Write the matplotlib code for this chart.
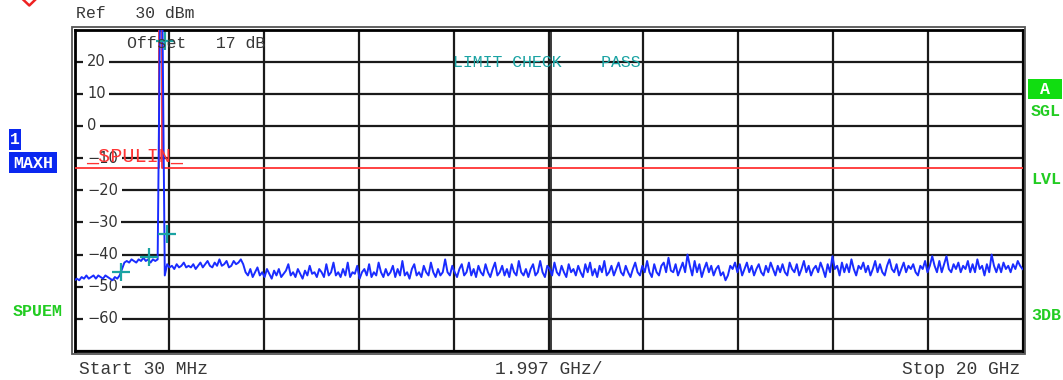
import matplotlib
matplotlib.use("Agg")
import matplotlib.pyplot as plt
import matplotlib.transforms as mtransforms
from matplotlib.patches import Rectangle
from matplotlib.lines import Line2D
import numpy as np

# ---------------- data ----------------
f_start_ghz = 0.03
f_stop_ghz = 20.0
ref_level = 30
y_bottom = -70

ytick_values = [20, 10, 0, -10, -20, -30, -40, -50, -60]
ytick_labels = ["20", "10", "0", "\u221210", "\u221220", "\u221230", "\u221240", "\u221250", "\u221260"]

# sweep trace (dBm), evenly spaced over the sweep
seg_below_1g = [-48.0, -47.5, -48.0, -47.0, -47.5, -46.5, -47.5, -47.0, -46.5, -47.5,
                -46.5, -47.0, -47.5, -46.5, -47.0, -47.5, -48.0, -47.0, -47.5, -46.5]
seg_1g_to_carrier = [-44.5, -42.5, -42.0, -42.5, -41.5, -42.0, -42.5, -41.5, -42.0, -41.0,
                     -42.0, -41.5, -42.5, -41.5, -42.0, -41.5]
seg_carrier = [35.0, 35.0, -46.5]
seg_near = [-43.0, -44.0, -43.5, -44.5, -43.0, -44.0, -43.5, -42.5, -44.0, -43.5,
            -44.0, -43.0, -44.5, -43.5, -42.5, -44.0, -43.0, -42.0, -43.5, -44.0,
            -42.5, -43.5, -41.5, -43.5, -43.0, -42.0, -44.0, -43.5, -42.0, -43.0,
            -42.5, -41.5, -43.0]
seg_far = [
    -45.5, -46.5, -44.5, -47.0, -45.5, -44.0, -46.5, -45.5, -47.0, -44.5, -46.0, -47.5, -45.0, -46.5, -44.5, -47.0, -46.0, -45.0, -43.0, -46.5,
    -45.5, -47.0, -44.5, -46.0, -47.5, -45.0, -46.5, -43.5, -46.0, -45.5, -47.0, -44.5, -45.5, -47.0, -43.0, -46.5, -45.5, -42.5, -46.5, -45.5,
    -47.0, -44.5, -46.5, -42.5, -47.0, -45.5, -46.0, -43.5, -47.5, -45.5, -44.5, -46.5, -43.0, -47.0, -45.5, -46.5, -42.5, -45.5, -47.0, -44.5,
    -46.5, -45.5, -43.5, -47.0, -44.5, -46.5, -42.0, -46.5, -45.5, -47.5, -44.5, -43.0, -46.5, -45.5, -47.0, -43.5, -45.5, -46.5, -42.5, -45.5,
    -47.0, -44.5, -46.5, -45.5, -41.5, -45.5, -46.5, -43.5, -45.5, -47.0, -44.5, -43.0, -46.5, -45.5, -42.5, -46.5, -44.5, -47.0, -43.5, -45.5,
    -46.5, -43.0, -45.5, -47.0, -44.5, -42.5, -46.5, -45.5, -43.5, -46.5, -44.5, -47.0, -43.0, -45.5, -46.5, -42.0, -45.5, -46.5, -44.5, -47.0,
    -44.5, -43.0, -46.5, -45.5, -42.0, -45.5, -47.0, -43.5, -44.5, -46.5, -42.5, -45.5, -46.5, -43.5, -45.5, -47.0, -43.0, -45.5, -44.5, -46.5,
    -43.5, -45.5, -47.0, -43.0, -45.5, -42.5, -46.5, -44.5, -47.0, -43.5, -45.5, -42.0, -46.5, -45.5, -43.5, -46.5, -44.5, -42.5, -45.5, -46.5,
    -43.5, -45.5, -47.0, -44.5, -42.5, -45.5, -46.5, -43.5, -45.5, -42.0, -45.5, -47.0, -43.0, -45.5, -46.5, -43.5, -42.5, -45.5, -41.0, -45.0,
    -45.5, -43.0, -46.5, -44.5, -42.5, -45.5, -40.0, -43.5, -46.5, -42.0, -45.5, -43.0, -47.0, -44.5, -42.5, -45.5, -43.5, -46.5, -44.5, -43.5,
    -46.5, -45.5, -48.0, -46.5, -43.5, -44.5, -42.5, -45.5, -43.0, -46.5, -44.5, -42.5, -45.5, -43.5, -46.5, -44.5, -43.0, -45.5, -46.5, -43.5,
    -45.5, -42.5, -44.5, -46.5, -43.5, -45.5, -43.0, -45.5, -46.5, -42.5, -44.5, -45.5, -43.0, -46.5, -44.5, -42.0, -45.5, -43.5, -46.5, -44.5,
    -43.5, -45.5, -42.5, -44.5, -47.0, -43.0, -45.5, -40.5, -44.5, -43.5, -46.5, -42.5, -45.5, -43.0, -45.5, -41.5, -44.5, -46.5, -43.5, -44.5,
    -42.5, -45.5, -43.5, -46.5, -44.5, -42.0, -45.5, -43.0, -45.5, -46.5, -43.5, -41.5, -44.5, -45.5, -43.0, -46.5, -44.5, -42.5, -45.5, -43.5,
    -44.5, -43.0, -45.5, -46.5, -43.5, -44.5, -42.0, -45.5, -43.5, -40.5, -43.5, -45.5, -42.0, -45.5, -43.0, -40.5, -44.5, -45.5, -43.0, -44.5,
    -42.5, -45.5, -43.5, -44.5, -42.0, -45.5, -43.0, -45.5, -41.5, -44.5, -43.5, -46.5, -43.0, -45.5, -40.0, -43.5, -45.5, -43.0, -45.5, -42.5,
    -44.5, -43.5, -45.5, -43.0, -44.5, -42.0, -43.5, -44.5]
trace_dbm = seg_below_1g + seg_1g_to_carrier + seg_carrier + seg_near + seg_far

# spurious limit line (SPULIN) with notch around the carrier band
limit_left_freq = [0.03, 1.805, 1.805]
limit_left_dbm = [-13, -13, 40]
limit_right_freq = [1.88, 1.88, 20.0]
limit_right_dbm = [40, -13, -13]

# peak markers
marker_freq = [1.0, 1.60, 1.97, 1.93]
marker_dbm = [-45.3, -40.7, -33.5, 26.4]

# ---------------- figure ----------------
W, H = 1063, 380
L, R, T, B = 74.5, 1022.5, 29.5, 351.0
fig = plt.figure(figsize=(W / 100, H / 100), dpi=100)
fig.patch.set_facecolor("white")
ax = fig.add_axes([L / W, 1 - B / H, (R - L) / W, (B - T) / H])
ax.set_xlim(f_start_ghz, f_stop_ghz)
ax.set_ylim(y_bottom, ref_level)
ax.set_xticks(np.linspace(f_start_ghz, f_stop_ghz, 11))
ax.set_yticks(np.arange(y_bottom, ref_level + 1, 10))
ax.set_axisbelow(True)
ax.grid(True, color="#1a1a1a", lw=1.6)
ax.tick_params(length=0, labelbottom=False, labelleft=False)
for s in ax.spines.values():
    s.set_color("black")
    s.set_linewidth(2.0)

# doubled centre line
center = (f_start_ghz + f_stop_ghz) / 2
off = mtransforms.offset_copy(ax.transData, fig=fig, x=2.5, y=0, units="dots")
ax.plot([center, center], [y_bottom, ref_level], color="#1a1a1a", lw=1.2, transform=off, zorder=0.6)

# outer frame
fx = lambda x: x / W
fy = lambda y: 1 - y / H
fig.add_artist(Rectangle((fx(L - 2.5), fy(B + 2.5)), (R - L + 5) / W, (B - T + 5) / H,
                         transform=fig.transFigure, fill=False, ec="#555555", lw=1.3))

# y labels inside the grid
blend = mtransforms.blended_transform_factory(ax.transAxes, ax.transData)
for v, lab in zip(ytick_values, ytick_labels):
    ax.text(0.0132, v, lab, transform=blend, ha="left", va="center", fontsize=10.5,
            family="DejaVu Sans", color="#333333", zorder=2,
            bbox=dict(boxstyle="square,pad=0.25", fc="white", ec="none"))

# limit line
ax.plot(limit_left_freq, limit_left_dbm, color="#ff3333", lw=1.3, zorder=3)
ax.plot(limit_right_freq, limit_right_dbm, color="#ff3333", lw=1.3, zorder=3)

# trace
trace_freq = np.linspace(f_start_ghz, f_stop_ghz, len(trace_dbm))
ax.plot(trace_freq, trace_dbm, color="#1a2cff", lw=1.4, zorder=4)

# markers
ax.plot(marker_freq, marker_dbm, ls="none", marker="+", ms=13, mew=1.6, color="#1aa3a3", zorder=5)

mono = "Liberation Mono"
txtc = "#383838"
fig.text(fx(76), fy(18), "Ref   30 dBm", family=mono, fontsize=11.9, color=txtc, va="baseline")
fig.text(fx(127), fy(48), "Offset   17 dB", family=mono, fontsize=11.9, color=txtc, va="baseline", zorder=6)
fig.text(fx(453), fy(67), "LIMIT CHECK    PASS", family=mono, fontsize=11.9, color="#1aa3a3", va="baseline", zorder=6)
fig.text(fx(86), fy(162), "_SPULIN_", family=mono, fontsize=14.5, color="#ff3333", va="baseline", zorder=6)
fig.text(fx(79), fy(374), "Start 30 MHz", family=mono, fontsize=13, color=txtc, va="baseline")
fig.text(fx(495), fy(374), "1.997 GHz/", family=mono, fontsize=13, color=txtc, va="baseline")
fig.text(fx(1020), fy(374), "Stop 20 GHz", family=mono, fontsize=13, color=txtc, va="baseline", ha="right")

# left status labels
blue = "#0a28f0"
fig.add_artist(Rectangle((fx(9), fy(150)), 12 / W, 21 / H, transform=fig.transFigure, fc=blue, ec="none"))
fig.text(fx(15), fy(140), "1", family=mono, weight="bold", fontsize=12, color="white", ha="center", va="center")
fig.add_artist(Rectangle((fx(9), fy(173)), 48 / W, 21 / H, transform=fig.transFigure, fc=blue, ec="none"))
fig.text(fx(33), fy(163), "MAXH", family=mono, weight="bold", fontsize=12, color="white", ha="center", va="center")
green = "#22cc22"
fig.text(fx(37.5), fy(312), "SPUEM", family=mono, weight="bold", fontsize=12, color=green, ha="center", va="center")

# right status labels
fig.add_artist(Rectangle((fx(1028), fy(99)), 34 / W, 20 / H, transform=fig.transFigure, fc="#11dd11", ec="none"))
fig.text(fx(1045), fy(89), "A", family=mono, weight="bold", fontsize=12, color="white", ha="center", va="center")
fig.text(fx(1046), fy(112), "SGL", family=mono, weight="bold", fontsize=12, color=green, ha="center", va="center")
fig.text(fx(1046), fy(179), "LVL", family=mono, weight="bold", fontsize=12, color=green, ha="center", va="center")
fig.text(fx(1046), fy(315), "3DB", family=mono, weight="bold", fontsize=12, color=green, ha="center", va="center")

# red trigger marker at top-left corner
fig.add_artist(Line2D([fx(22.5), fx(29.3), fx(36)], [fy(-1), fy(5.5), fy(-1)],
                      transform=fig.transFigure, color="#ee2222", lw=1.8))

fig.savefig("out.png", dpi=100)
